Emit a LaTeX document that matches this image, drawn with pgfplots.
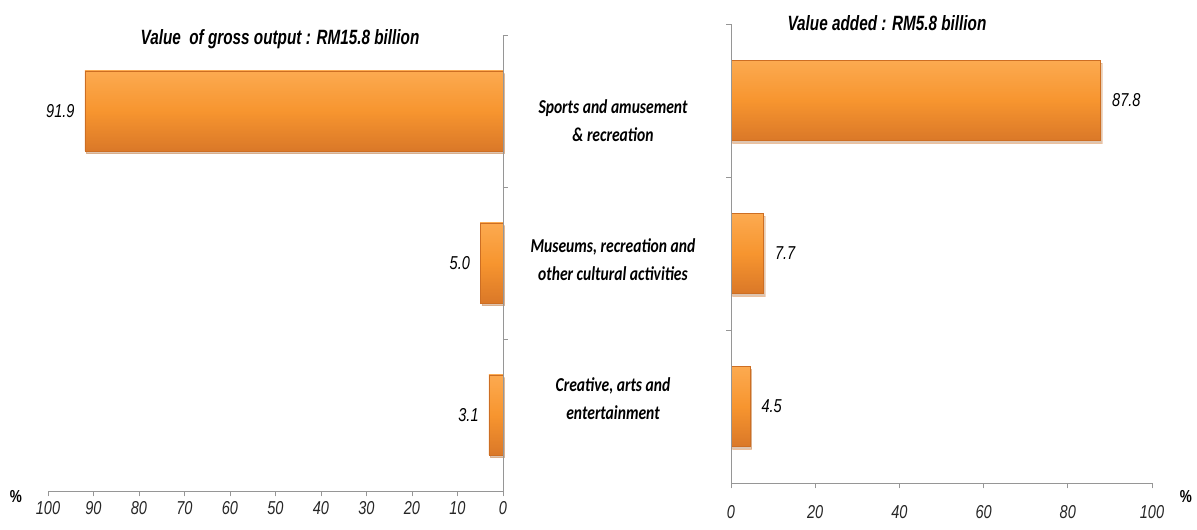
\documentclass[border=0pt]{standalone}
\usepackage{fontspec}
\usepackage{pgfplots}
\usetikzlibrary{shadows}
\pgfplotsset{compat=1.18}
\newfontfamily\arialn[FakeStretch=0.78]{Liberation Sans}
\newfontfamily\arialt[FakeStretch=0.74]{Liberation Sans}
\newfontfamily\calibn[FakeStretch=0.79]{Carlito}
\definecolor{barTop}{RGB}{252,170,80}
\definecolor{barMid}{RGB}{247,149,47}
\definecolor{barBot}{RGB}{218,120,40}
\definecolor{barEdge}{RGB}{205,110,35}
\definecolor{axgray}{RGB}{150,150,150}
\pgfplotsset{
  mybars/.style={
    scale only axis, clip=false,
    ymin=0.5, ymax=3.5, xmin=0, xmax=100,
    axis x line=bottom, axis y line=none,
    axis line style={-, axgray, line width=0.7pt},
    xtick align=outside, major tick length=4pt,
    major tick style={axgray, line width=0.7pt},
    /pgf/number format/assume math mode=true,
    xticklabel style={font=\arialn\itshape\fontsize{14}{16}\selectfont, anchor=center, text=black!85},
    point meta=explicit symbolic,
    nodes near coords,
  },
  mybar/.style={xbar, bar width=60pt, bar shift=0pt, draw=barEdge, line width=0.4pt,
    top color=barTop, bottom color=barBot, middle color=barMid,
    drop shadow={shadow xshift=1.2pt, shadow yshift=-2pt, opacity=0.25}},
}
\begin{document}
\begin{tikzpicture}
\path[use as bounding box] (0,0) rectangle (897.75pt,396.75pt);
% Left: value of gross output
\begin{axis}[mybars,
  at={(36pt,28.5pt)}, anchor=south west,
  width=341.25pt, height=342pt,
  x dir=reverse,
  xtick={0,10,...,100},
  xticklabel style={yshift=-9.1pt},
  every node near coord/.append style={anchor=east, inner sep=0pt, xshift=-7.5pt,
    font=\arialn\itshape\fontsize{14}{16}\selectfont},
]
\addplot[mybar] coordinates {(91.9,3) [91.9]};
\addplot[mybar] coordinates {(5.0,2) [5.0]};
\addplot[mybar] coordinates {(3.1,1) [3.1]};
\draw[axgray, line width=0.7pt] (axis cs:0,0.5) -- (axis cs:0,3.5);
\draw[axgray, line width=0.7pt] (axis cs:0,1.5) -- ([xshift=4pt]axis cs:0,1.5);
\draw[axgray, line width=0.7pt] (axis cs:0,2.5) -- ([xshift=4pt]axis cs:0,2.5);
\draw[axgray, line width=0.7pt] (axis cs:0,3.5) -- ([xshift=4pt]axis cs:0,3.5);
\end{axis}
% Right: value added
\begin{axis}[mybars,
  at={(548.25pt,34.5pt)}, anchor=south west,
  width=315.75pt, height=344.25pt,
  xtick={0,20,...,100},
  xticklabel style={yshift=-18.1pt},
  every node near coord/.append style={anchor=west, inner sep=0pt, xshift=8.5pt,
    font=\arialn\itshape\fontsize{14}{16}\selectfont},
]
\addplot[mybar] coordinates {(87.8,3) [87.8]};
\addplot[mybar] coordinates {(7.7,2) [7.7]};
\addplot[mybar] coordinates {(4.5,1) [4.5]};
\draw[axgray, line width=0.7pt] (axis cs:0,0.5) -- (axis cs:0,3.5);
\draw[axgray, line width=0.7pt] (axis cs:0,1.5) -- ([xshift=-4pt]axis cs:0,1.5);
\draw[axgray, line width=0.7pt] (axis cs:0,2.5) -- ([xshift=-4pt]axis cs:0,2.5);
\draw[axgray, line width=0.7pt] (axis cs:0,3.5) -- ([xshift=-4pt]axis cs:0,3.5);
\end{axis}
% Titles
\node[font=\arialt\bfseries\itshape\fontsize{15.5}{18}\selectfont] at (210pt,367.5pt) {Value\ \ of gross output : RM15.8 billion};
\node[font=\arialt\bfseries\itshape\fontsize{15.5}{18}\selectfont] at (665.25pt,379.5pt) {Value added : RM5.8 billion};
% Category labels
\begin{scope}[every node/.style={align=center, font=\calibn\bfseries\itshape\fontsize{14.8}{21}\selectfont}]
\node at (459.75pt,306pt) {Sports and amusement\\\& recreation};
\node at (459.75pt,201.75pt) {Museums, recreation and\\other cultural activities};
\node at (459.75pt,97.5pt) {Creative, arts and\\entertainment};
\end{scope}
% Percent signs
\node[font=\arialn\bfseries\fontsize{13}{15}\selectfont] at (12pt,24pt) {\%};
\node[font=\arialn\bfseries\fontsize{13}{15}\selectfont] at (889.5pt,24pt) {\%};
\end{tikzpicture}
\end{document}
